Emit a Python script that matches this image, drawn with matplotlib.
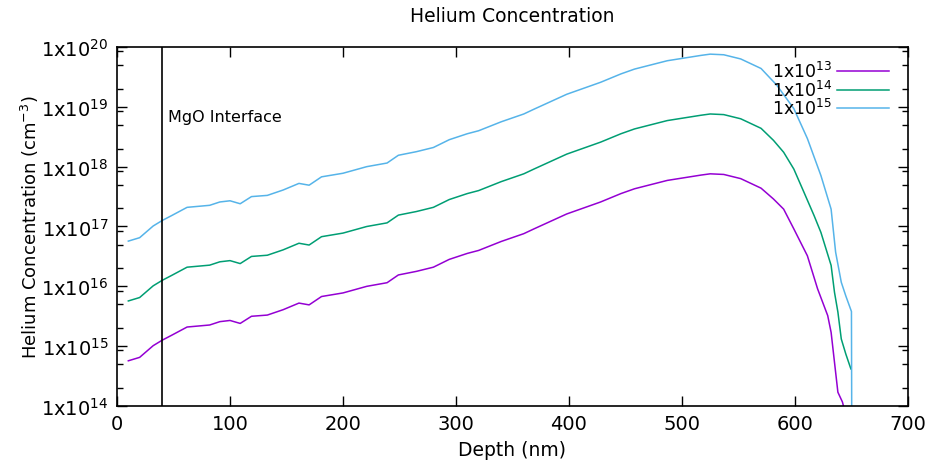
import matplotlib
matplotlib.use('Agg')
import matplotlib.pyplot as plt
import matplotlib.ticker as mticker

plt.rcParams['font.family'] = 'DejaVu Sans'
plt.rcParams['mathtext.default'] = 'regular'

# depth (nm) and helium concentration (cm^-3) for each fluence
depth_1e13 = [10, 20, 32, 40, 48, 62, 74, 82, 91, 100, 109, 119, 133, 147, 161, 170, 181, 200,
              221, 239, 249, 265, 280, 294, 310, 320, 340, 360, 369, 398, 428, 446, 458, 487,
              517, 525, 537, 552, 570, 581, 590, 599, 611, 620, 629, 632, 635, 638, 642, 646]
conc_1e13 = [5.7e14, 6.5e14, 1.02e15, 1.26e15, 1.51e15, 2.09e15, 2.19e15, 2.26e15, 2.57e15,
             2.69e15, 2.40e15, 3.16e15, 3.31e15, 4.07e15, 5.25e15, 4.90e15, 6.76e15, 7.76e15,
             1.00e16, 1.15e16, 1.55e16, 1.78e16, 2.09e16, 2.82e16, 3.55e16, 3.98e16, 5.62e16,
             7.59e16, 9.12e16, 1.62e17, 2.57e17, 3.55e17, 4.27e17, 5.89e17, 7.24e17, 7.59e17,
             7.41e17, 6.31e17, 4.37e17, 2.88e17, 1.95e17, 9.12e16, 3.24e16, 9.12e15, 3.24e15,
             1.70e15, 5.37e14, 1.70e14, 1.17e14, 6.0e13]

depth_1e14 = [10, 20, 32, 40, 48, 62, 74, 82, 91, 100, 109, 119, 133, 147, 161, 170, 181, 200,
              221, 239, 249, 265, 280, 294, 310, 320, 340, 360, 369, 398, 428, 446, 458, 487,
              517, 525, 537, 552, 570, 581, 590, 599, 608, 617, 623, 632, 635, 638, 641, 645, 649.5]
conc_1e14 = [5.7e15, 6.5e15, 1.02e16, 1.26e16, 1.51e16, 2.09e16, 2.19e16, 2.26e16, 2.57e16,
             2.69e16, 2.40e16, 3.16e16, 3.31e16, 4.07e16, 5.25e16, 4.90e16, 6.76e16, 7.76e16,
             1.00e17, 1.15e17, 1.55e17, 1.78e17, 2.09e17, 2.82e17, 3.55e17, 3.98e17, 5.62e17,
             7.59e17, 9.12e17, 1.62e18, 2.57e18, 3.55e18, 4.27e18, 5.89e18, 7.24e18, 7.59e18,
             7.41e18, 6.31e18, 4.37e18, 2.75e18, 1.74e18, 9.12e17, 3.72e17, 1.51e17, 7.94e16,
             2.24e16, 7.94e15, 3.72e15, 1.32e15, 7.41e14, 4.17e14]

depth_1e15 = [10, 20, 32, 40, 48, 62, 74, 82, 91, 100, 109, 119, 133, 147, 161, 170, 181, 200,
              221, 239, 249, 265, 280, 294, 310, 320, 340, 360, 369, 398, 428, 446, 458, 487,
              517, 525, 537, 552, 570, 584, 599, 611, 623, 632, 636, 641, 645, 650, 650.5]
conc_1e15 = [5.7e16, 6.5e16, 1.02e17, 1.26e17, 1.51e17, 2.09e17, 2.19e17, 2.26e17, 2.57e17,
             2.69e17, 2.40e17, 3.16e17, 3.31e17, 4.07e17, 5.25e17, 4.90e17, 6.76e17, 7.76e17,
             1.00e18, 1.15e18, 1.55e18, 1.78e18, 2.09e18, 2.82e18, 3.55e18, 3.98e18, 5.62e18,
             7.59e18, 9.12e18, 1.62e19, 2.57e19, 3.55e19, 4.27e19, 5.89e19, 7.24e19, 7.59e19,
             7.41e19, 6.31e19, 4.37e19, 2.29e19, 9.33e18, 2.95e18, 7.08e17, 1.95e17, 3.72e16,
             1.17e16, 6.92e15, 3.80e15, 1e12]

series_labels = ['1x10$^{13}$', '1x10$^{14}$', '1x10$^{15}$']
series_colors = ['#9400d3', '#009e73', '#56b4e9']
interface_depth = 40
y_exps = [14, 15, 16, 17, 18, 19, 20]
x_ticks = [0, 100, 200, 300, 400, 500, 600, 700]

fig = plt.figure(figsize=(9.34, 4.64), dpi=100, facecolor='white')
ax = fig.add_axes([0.1253, 0.1228, 0.8468, 0.7738])

ax.plot(depth_1e13, conc_1e13, color=series_colors[0], lw=1.1, label=series_labels[0])
ax.plot(depth_1e14, conc_1e14, color=series_colors[1], lw=1.1, label=series_labels[1])
ax.plot(depth_1e15, conc_1e15, color=series_colors[2], lw=1.1, label=series_labels[2])

ax.axvline(interface_depth, color='black', lw=1.2)
ax.text(interface_depth + 5, 10**18.83, 'MgO Interface', fontsize=11.5, va='center', ha='left')

ax.set_yscale('log')
ax.set_xlim(0, 700)
ax.set_ylim(1e14, 1e20)
ax.set_xticks(x_ticks)
ax.yaxis.set_major_locator(mticker.FixedLocator([10.0**e for e in y_exps]))
ax.yaxis.set_minor_locator(mticker.LogLocator(base=10, subs=[2.0, 5.0, 8.5]))
ax.yaxis.set_major_formatter(mticker.FixedFormatter(['1x10$^{%d}$' % e for e in y_exps]))
ax.yaxis.set_minor_formatter(mticker.NullFormatter())

ax.tick_params(axis='both', which='major', direction='in', length=7, width=1,
               top=True, right=True, labelsize=14, pad=6)
ax.tick_params(axis='y', which='minor', direction='in', length=4, width=1, right=True)
for s in ax.spines.values():
    s.set_linewidth(1.2)

ax.set_xlabel('Depth (nm)', fontsize=13.5, labelpad=5)
ax.set_ylabel('Helium Concentration (cm$^{-3}$)', fontsize=13, labelpad=0)
ax.set_title('Helium Concentration', fontsize=13.5, pad=19)

ax.legend(loc='upper right', frameon=False, markerfirst=False, fontsize=12.5,
          handlelength=3.0, handletextpad=0.3, labelspacing=-0.08,
          borderaxespad=0.3, bbox_to_anchor=(0.992, 0.995))

fig.savefig('out.png', dpi=100, facecolor='white')
